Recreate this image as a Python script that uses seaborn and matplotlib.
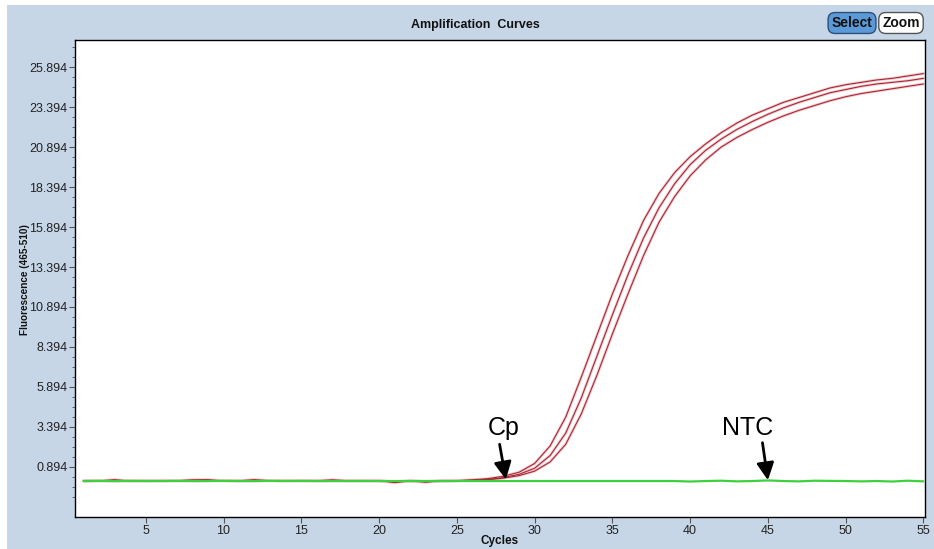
import numpy as np
import pandas as pd
import matplotlib
matplotlib.use("Agg")
import matplotlib.pyplot as plt
from matplotlib.patches import Rectangle
from matplotlib.ticker import FixedLocator
import seaborn as sns

cycles = list(range(1, 56))

sample_a = [0.02, 0.01, 0.09, 0.00, 0.02, 0.01, 0.02, 0.08, 0.09, 0.01,
            0.02, 0.09, 0.02, 0.01, 0.02, 0.02, 0.08, 0.02, 0.01, 0.02,
            -0.10, 0.01, -0.08, 0.02, 0.03, 0.08, 0.15, 0.30, 0.55, 1.10,
            2.20, 4.00, 6.50, 9.10, 11.70, 14.10, 16.30, 18.00, 19.30, 20.30,
            21.10, 21.80, 22.40, 22.90, 23.30, 23.70, 24.00, 24.30, 24.60, 24.80,
            24.95, 25.10, 25.20, 25.35, 25.50]
sample_b = [0.01, 0.02, 0.00, 0.02, 0.01, 0.03, 0.02, 0.01, 0.02, 0.03,
            0.01, 0.02, 0.02, 0.03, 0.01, 0.02, 0.02, 0.01, 0.03, 0.02,
            -0.06, 0.00, -0.02, 0.01, 0.02, 0.05, 0.10, 0.22, 0.42, 0.80,
            1.60, 3.00, 5.20, 7.80, 10.40, 12.90, 15.20, 17.10, 18.60, 19.80,
            20.70, 21.40, 22.00, 22.50, 22.95, 23.35, 23.70, 24.00, 24.30, 24.50,
            24.70, 24.85, 24.95, 25.05, 25.20]
sample_c = [0.00, 0.02, 0.01, 0.01, 0.02, 0.02, 0.01, 0.02, 0.03, 0.02,
            0.02, 0.01, 0.03, 0.02, 0.02, 0.01, 0.02, 0.03, 0.02, 0.01,
            -0.04, 0.02, -0.03, 0.00, 0.02, 0.04, 0.08, 0.18, 0.34, 0.62,
            1.20, 2.30, 4.20, 6.60, 9.20, 11.70, 14.10, 16.20, 17.80, 19.10,
            20.10, 20.90, 21.50, 22.00, 22.45, 22.85, 23.20, 23.50, 23.80, 24.05,
            24.25, 24.40, 24.55, 24.70, 24.85]
ntc = [0.00, 0.01, 0.00, 0.01, 0.00, 0.00, 0.01, 0.00, 0.00, 0.01,
       0.00, 0.00, 0.01, 0.00, 0.01, 0.00, 0.00, 0.00, 0.00, 0.00,
       0.00, 0.00, 0.00, 0.00, 0.00, 0.00, 0.00, 0.00, 0.00, 0.00,
       0.00, 0.00, 0.00, 0.00, 0.00, 0.00, 0.00, 0.00, 0.00, -0.03,
       0.00, 0.02, -0.02, 0.00, 0.04, 0.00, -0.02, 0.02, 0.01, 0.00,
       -0.02, 0.00, -0.03, 0.02, -0.02]

y_ticks = [0.894, 3.394, 5.894, 8.394, 10.894, 13.394, 15.894, 18.394, 20.894, 23.394, 25.894]
x_ticks = [5, 10, 15, 20, 25, 30, 35, 40, 45, 50, 55]

df_pos = pd.DataFrame({
    "Cycles": cycles * 3,
    "Fluorescence": sample_a + sample_b + sample_c,
    "Sample": ["A"] * 55 + ["B"] * 55 + ["C"] * 55,
})
df_ntc = pd.DataFrame({"Cycles": cycles, "Fluorescence": ntc, "Sample": ["NTC"] * 55})

sns.set_style("ticks")
plt.rcParams["font.family"] = ["Liberation Sans", "DejaVu Sans"]

W, H = 934, 549
fig = plt.figure(figsize=(W / 100, H / 100), dpi=100, facecolor="white")
bg = "#c6d6e7"
fig.patches.append(Rectangle((7 / W, 0), 1 - 7 / W, 1 - 5 / H, transform=fig.transFigure,
                             facecolor=bg, edgecolor="none", zorder=-10))

ax = fig.add_axes([75 / W, 1 - 517 / H, (925 - 75) / W, (517 - 40) / H])
ax.set_facecolor("white")

# light pink halo, thin dark red core, green NTC on top
sns.lineplot(data=df_pos, x="Cycles", y="Fluorescence", units="Sample", estimator=None,
             color="#f2c4c8", lw=2.0, ax=ax, zorder=2)
sns.lineplot(data=df_pos, x="Cycles", y="Fluorescence", units="Sample", estimator=None,
             color="#a32432", lw=0.75, ax=ax, zorder=3)
sns.lineplot(data=df_ntc, x="Cycles", y="Fluorescence", color="#3fd03f", lw=1.6, ax=ax, zorder=4)

ax.set_xlim(0.45, 55.1)
ax.set_ylim(-2.25, 27.6)
ax.yaxis.set_major_locator(FixedLocator(y_ticks))
ax.yaxis.set_minor_locator(FixedLocator([v + k * 0.625 for v in [-1.606] + y_ticks for k in (1, 2, 3)]))
ax.set_yticklabels([f"{v:.3f}" for v in y_ticks])
ax.xaxis.set_major_locator(FixedLocator(x_ticks))
ax.set_xticklabels([str(v) for v in x_ticks])
ax.tick_params(axis="both", which="major", length=4, width=0.8, color="#555555",
               labelsize=9, labelcolor="#222222", pad=1.5)
ax.tick_params(axis="y", which="minor", length=2.5, width=0.6, color="#555555")
for s in ax.spines.values():
    s.set_visible(True)
    s.set_color("black")
    s.set_linewidth(1.0)
ax.set_xlabel("")
ax.set_ylabel("")

# annotations
ax.annotate("", xy=(28.15, 0.1), xytext=(27.75, 2.3),
            arrowprops=dict(arrowstyle="-|>", color="black", lw=2, mutation_scale=26,
                            shrinkA=0, shrinkB=0), zorder=6)
ax.text(28.0, 3.3, "Cp", fontsize=18, ha="center", va="center", color="black", zorder=6)
ax.annotate("", xy=(45.0, 0.05), xytext=(44.65, 2.4),
            arrowprops=dict(arrowstyle="-|>", color="black", lw=2, mutation_scale=26,
                            shrinkA=0, shrinkB=0), zorder=6)
ax.text(43.7, 3.3, "NTC", fontsize=18, ha="center", va="center", color="black", zorder=6)

# labels and title
fig.text(475 / W, 1 - 25 / H, "Amplification  Curves", fontsize=9, fontweight="bold",
         ha="center", va="center", color="#111111")
fig.text(25 / W, 1 - 280 / H, "Fluorescence (465-510)", fontsize=7.2, fontweight="bold",
         rotation=90, ha="center", va="center", color="#111111")
fig.text(500 / W, 1 - 541 / H, "Cycles", fontsize=8.5, fontweight="bold",
         ha="center", va="center", color="#111111")

# buttons
fig.text(852 / W, 1 - 23 / H, "Select", fontsize=10, fontweight="bold", ha="center", va="center",
         color="#111111",
         bbox=dict(boxstyle="round,pad=0.25,rounding_size=0.5", fc="#5b9ad6", ec="#2b4f7a", lw=1))
fig.text(901 / W, 1 - 23 / H, "Zoom", fontsize=10, fontweight="bold", ha="center", va="center",
         color="#111111",
         bbox=dict(boxstyle="round,pad=0.25,rounding_size=0.5", fc="white", ec="#555555", lw=1))

fig.savefig("out.png", dpi=100, facecolor=fig.get_facecolor())
